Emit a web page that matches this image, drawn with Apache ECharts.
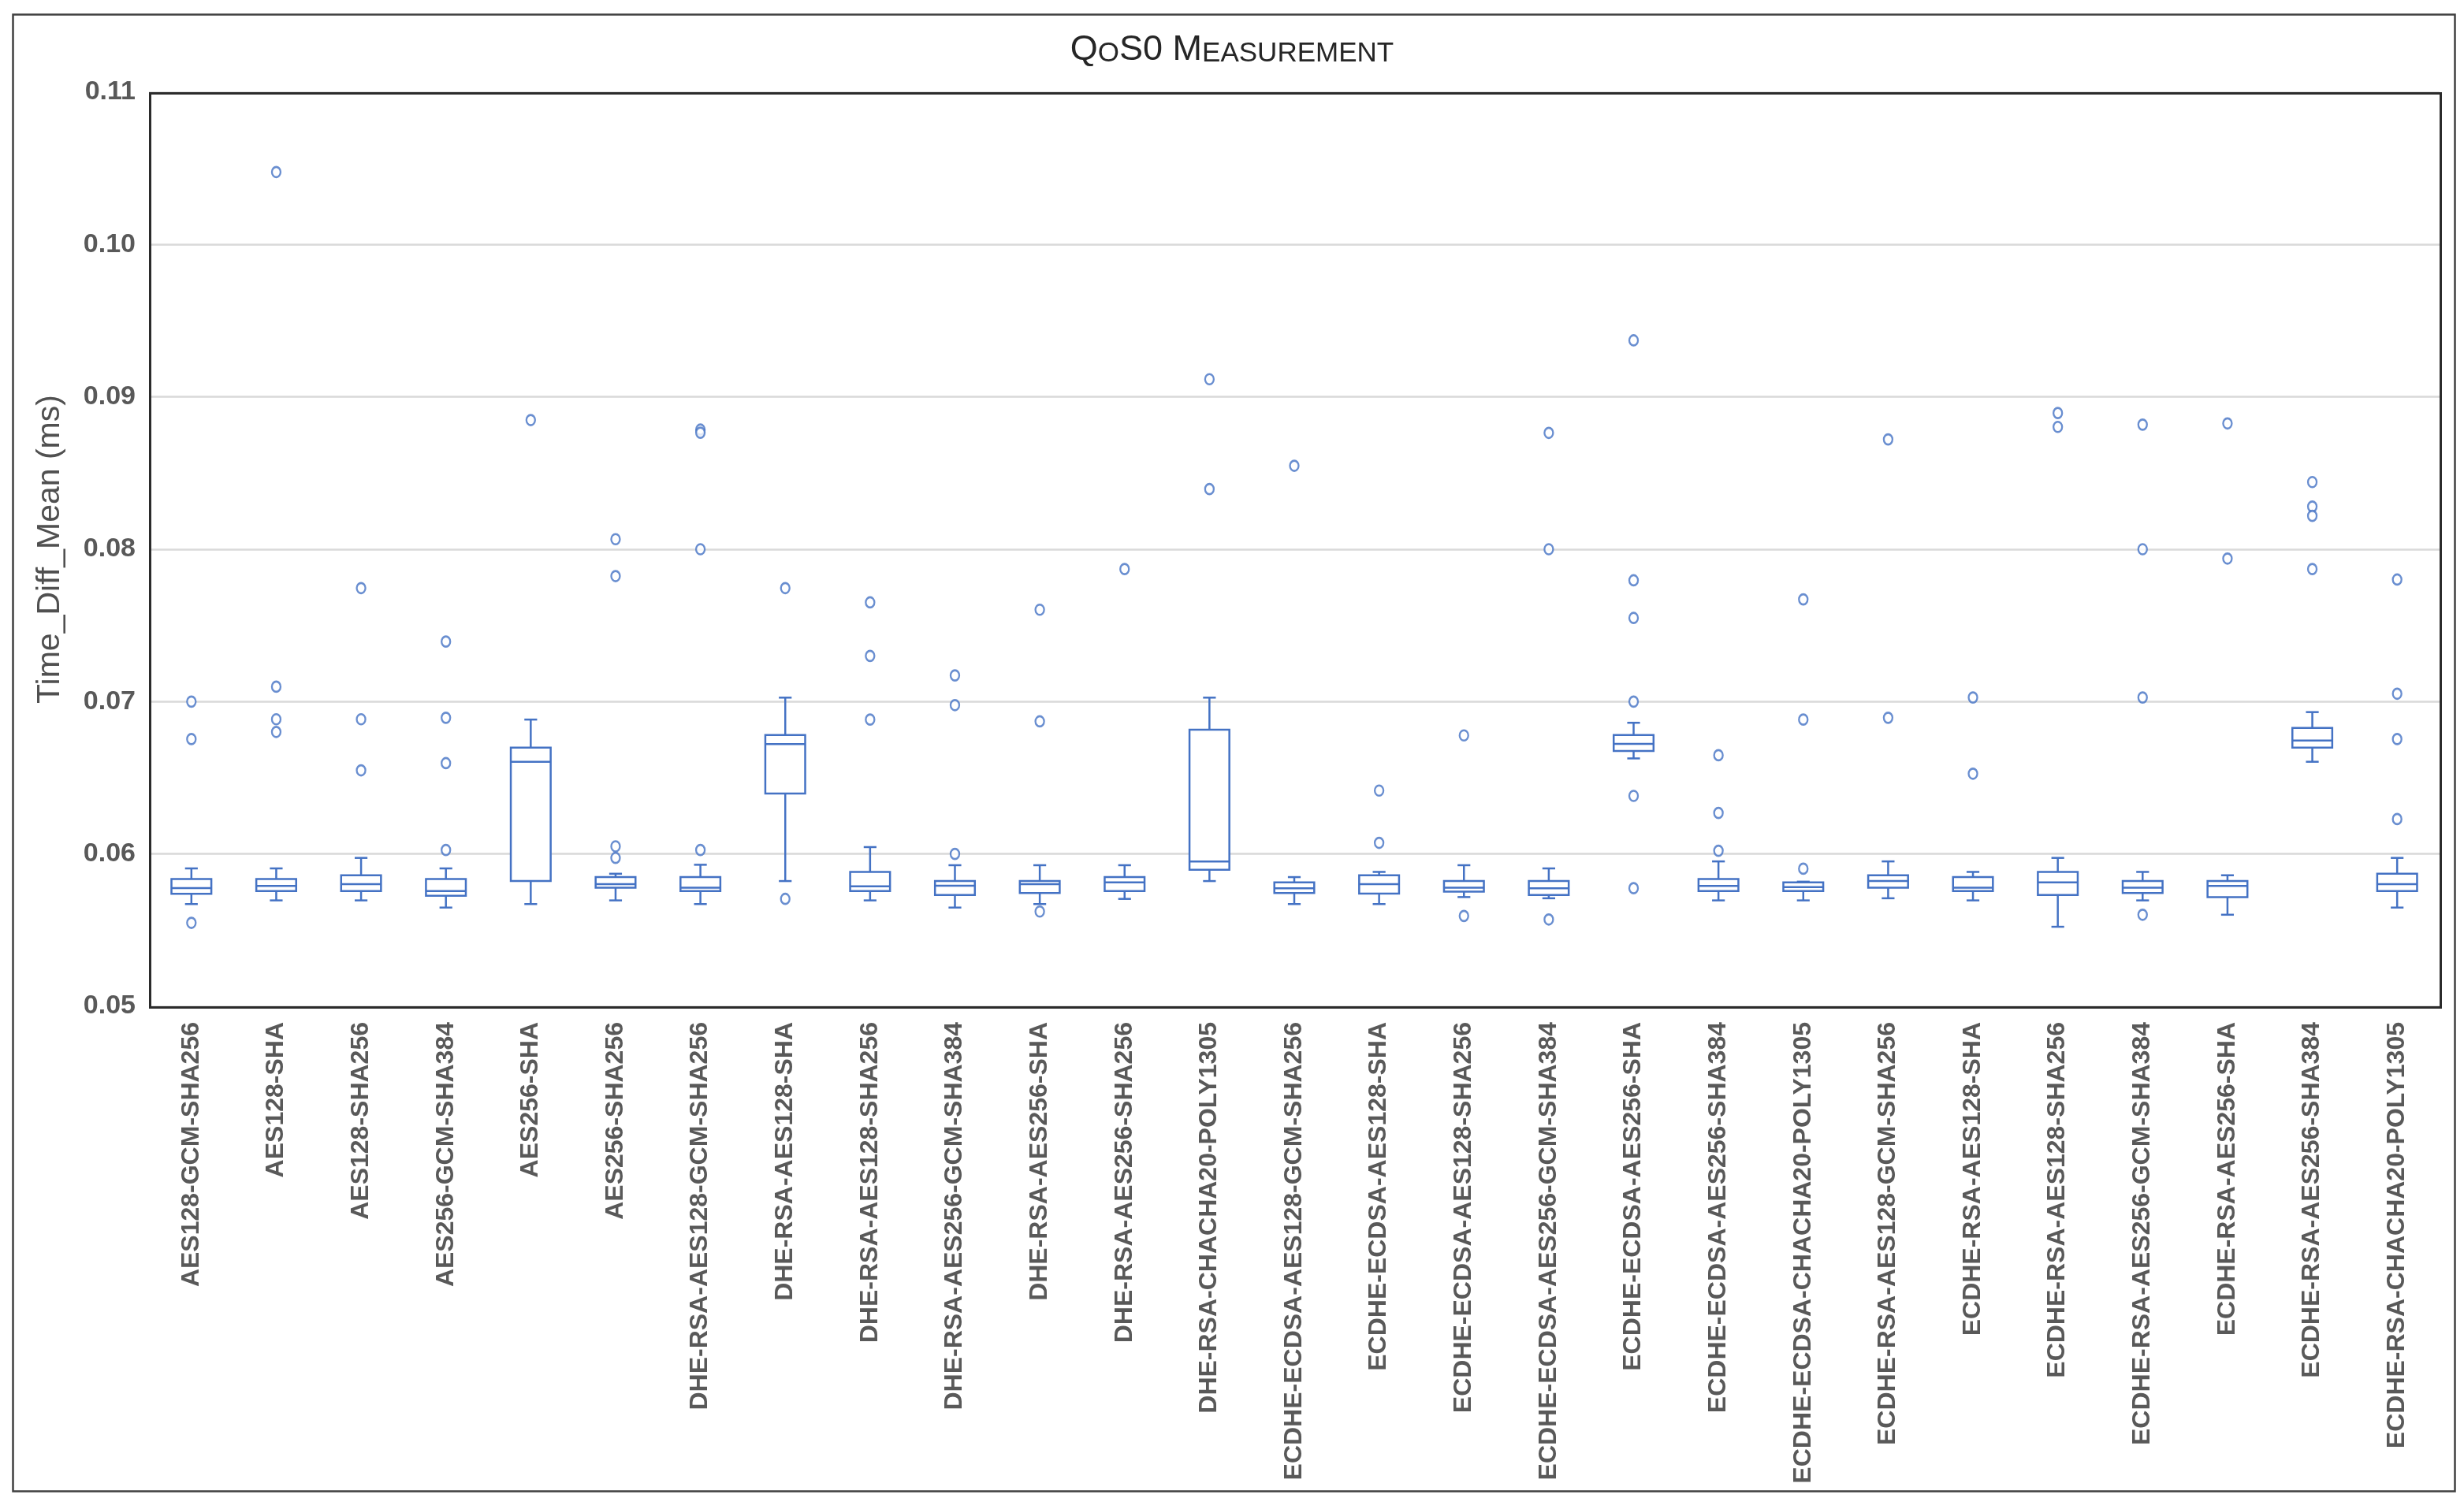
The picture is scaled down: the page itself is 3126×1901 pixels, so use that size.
<!DOCTYPE html>
<html>
<head>
<meta charset="utf-8">
<script src="https://cdn.jsdelivr.net/npm/echarts@6/dist/echarts.min.js"></script>
<style>
html,body{margin:0;padding:0;background:#fff;}
#chart{width:3126px;height:1901px;}
</style>
</head>
<body>
<div id="chart"></div>
<script>
const categories = [
  'AES128-GCM-SHA256','AES128-SHA','AES128-SHA256','AES256-GCM-SHA384','AES256-SHA','AES256-SHA256',
  'DHE-RSA-AES128-GCM-SHA256','DHE-RSA-AES128-SHA','DHE-RSA-AES128-SHA256','DHE-RSA-AES256-GCM-SHA384',
  'DHE-RSA-AES256-SHA','DHE-RSA-AES256-SHA256','DHE-RSA-CHACHA20-POLY1305','ECDHE-ECDSA-AES128-GCM-SHA256',
  'ECDHE-ECDSA-AES128-SHA','ECDHE-ECDSA-AES128-SHA256','ECDHE-ECDSA-AES256-GCM-SHA384','ECDHE-ECDSA-AES256-SHA',
  'ECDHE-ECDSA-AES256-SHA384','ECDHE-ECDSA-CHACHA20-POLY1305','ECDHE-RSA-AES128-GCM-SHA256','ECDHE-RSA-AES128-SHA',
  'ECDHE-RSA-AES128-SHA256','ECDHE-RSA-AES256-GCM-SHA384','ECDHE-RSA-AES256-SHA','ECDHE-RSA-AES256-SHA384',
  'ECDHE-RSA-CHACHA20-POLY1305'
];
const whiskerLow = [0.05671,0.05695,0.05695,0.05648,0.05671,0.05695,0.05671,0.05822,0.05695,0.05648,0.05671,0.05705,0.05822,0.05671,0.05671,0.05717,0.05709,0.06627,0.05695,0.05695,0.05709,0.05695,0.05522,0.05695,0.05601,0.06605,0.05648];
const q1 = [0.05738,0.05756,0.05756,0.05726,0.05823,0.05778,0.05756,0.06397,0.05756,0.05730,0.05744,0.05756,0.05896,0.05744,0.05740,0.05752,0.05730,0.06676,0.05756,0.05756,0.05778,0.05756,0.05730,0.05744,0.05717,0.06698,0.05756];
const median = [0.05776,0.05790,0.05802,0.05756,0.06605,0.05802,0.05778,0.06721,0.05787,0.05792,0.05802,0.05813,0.05951,0.05775,0.05802,0.05778,0.05775,0.06723,0.05790,0.05782,0.05822,0.05778,0.05813,0.05778,0.05790,0.06744,0.05802];
const q3 = [0.05835,0.05835,0.05860,0.05835,0.06698,0.05848,0.05848,0.06780,0.05882,0.05822,0.05822,0.05848,0.06815,0.05813,0.05860,0.05822,0.05822,0.06780,0.05835,0.05813,0.05860,0.05848,0.05882,0.05822,0.05822,0.06827,0.05870];
const whiskerHigh = [0.05905,0.05905,0.05974,0.05905,0.06882,0.05870,0.05929,0.07026,0.06045,0.05926,0.05926,0.05926,0.07026,0.05848,0.05882,0.05926,0.05905,0.06861,0.05951,0.05818,0.05951,0.05882,0.05974,0.05882,0.05860,0.06931,0.05974];
const outliers = [
  [0.0700,0.06754,0.05548],
  [0.10476,0.07098,0.06884,0.06801],
  [0.07745,0.06884,0.06549],
  [0.07394,0.06894,0.06596,0.06026],
  [0.08848],
  [0.08066,0.07824,0.0605,0.05974],
  [0.08785,0.08765,0.0800,0.06026],
  [0.07745,0.05705],
  [0.07651,0.0730,0.06882],
  [0.07172,0.06977,0.0600],
  [0.07603,0.0687,0.05622],
  [0.0787],
  [0.09116,0.08395],
  [0.08548],
  [0.06416,0.06073],
  [0.06778,0.05593],
  [0.08764,0.0800,0.0557],
  [0.09371,0.07796,0.07549,0.0700,0.06381,0.05775],
  [0.06648,0.06269,0.06021],
  [0.07671,0.06882,0.05903],
  [0.08721,0.06894],
  [0.07027,0.06527],
  [0.08894,0.08803],
  [0.08818,0.0800,0.07027,0.05601],
  [0.08826,0.07939],
  [0.08441,0.0828,0.08219,0.0787],
  [0.07801,0.07052,0.06754,0.06229]
];
const yTicks = {min:0.05, max:0.11, interval:0.01};

const BLUE = '#4472C4';
const GREY = '#595959';

const boxData = categories.map((c,i)=>[i, whiskerLow[i], q1[i], median[i], q3[i], whiskerHigh[i]]);
const outlierData = [];
outliers.forEach((arr,i)=>arr.forEach(v=>outlierData.push([i,v])));

const G = {left:189, right:31, top:117, bottom:624};

const chart = echarts.init(document.getElementById('chart'), null, {renderer:'canvas'});
chart.setOption({
  backgroundColor:'#fff',
  animation:false,
  title:{
    text:'{a|Q}{b|O}{a|S0 M}{b|EASUREMENT}',
    left:'center', top:33,
    textStyle:{
      fontWeight:'normal',
      rich:{
        a:{fontFamily:'Liberation Sans',fontWeight:'normal',fontSize:45,color:'#262626',verticalAlign:'bottom',lineHeight:48},
        b:{fontFamily:'Liberation Sans',fontWeight:'normal',fontSize:35,color:'#262626',verticalAlign:'bottom',lineHeight:48}
      }
    }
  },
  graphic:[{
    type:'rect', left:14, top:16, z:-1,
    shape:{width:3098,height:1874},
    style:{fill:'none',stroke:'#404040',lineWidth:2.5}
  },{
    type:'rect', left:G.left-1, top:G.top-1, z:50, silent:true,
    shape:{width:3126-G.left-G.right, height:1901-G.top-G.bottom},
    style:{fill:'none',stroke:'#2b2b2b',lineWidth:3}
  }],
  grid:{left:G.left,right:G.right,top:G.top,bottom:G.bottom,show:false},
  xAxis:{
    type:'category', data:categories,
    axisLine:{show:false}, axisTick:{show:false},
    splitLine:{show:false},
    axisLabel:{rotate:90, interval:0, margin:20, fontFamily:'Liberation Sans', fontWeight:'bold', fontSize:32, color:GREY}
  },
  yAxis:{
    type:'value', min:yTicks.min, max:yTicks.max, interval:yTicks.interval,
    name:'Time_Diff_Mean (ms)', nameLocation:'middle', nameGap:105,
    nameTextStyle:{fontFamily:'Liberation Sans', fontSize:41, color:'#505050'},
    axisLine:{show:false}, axisTick:{show:false},
    splitLine:{lineStyle:{color:'#d9d9d9',width:2.5}},
    axisLabel:{margin:17, fontFamily:'Liberation Sans', fontWeight:'bold', fontSize:34, color:GREY,
      formatter:v=>v.toFixed(2)}
  },
  series:[
    {
      type:'custom', name:'box',
      data:boxData,
      encode:{x:0, y:[1,2,3,4,5]},
      renderItem:function(params, api){
        const x = api.value(0);
        const pLow = api.coord([x, api.value(1)]);
        const pQ1 = api.coord([x, api.value(2)]);
        const pMed = api.coord([x, api.value(3)]);
        const pQ3 = api.coord([x, api.value(4)]);
        const pHigh = api.coord([x, api.value(5)]);
        const bw = api.size([1,0])[0]*0.47;
        const cw = bw*0.32;
        const cx = pMed[0];
        const st = {stroke:BLUE, lineWidth:2.5, fill:'none'};
        return {type:'group', children:[
          {type:'rect', shape:{x:cx-bw/2, y:pQ3[1], width:bw, height:pQ1[1]-pQ3[1]}, style:{stroke:BLUE,lineWidth:2.5,fill:'#fff'}},
          {type:'line', shape:{x1:cx-bw/2, y1:pMed[1], x2:cx+bw/2, y2:pMed[1]}, style:st},
          {type:'line', shape:{x1:cx, y1:pQ3[1], x2:cx, y2:pHigh[1]}, style:st},
          {type:'line', shape:{x1:cx, y1:pQ1[1], x2:cx, y2:pLow[1]}, style:st},
          {type:'line', shape:{x1:cx-cw/2, y1:pHigh[1], x2:cx+cw/2, y2:pHigh[1]}, style:st},
          {type:'line', shape:{x1:cx-cw/2, y1:pLow[1], x2:cx+cw/2, y2:pLow[1]}, style:st}
        ]};
      }
    },
    {
      type:'scatter', name:'outliers',
      data:outlierData,
      symbol:'circle', symbolSize:[11,13],
      itemStyle:{color:'#fff', borderColor:BLUE, borderWidth:2.5}
    }
  ]
});
</script>
</body>
</html>
